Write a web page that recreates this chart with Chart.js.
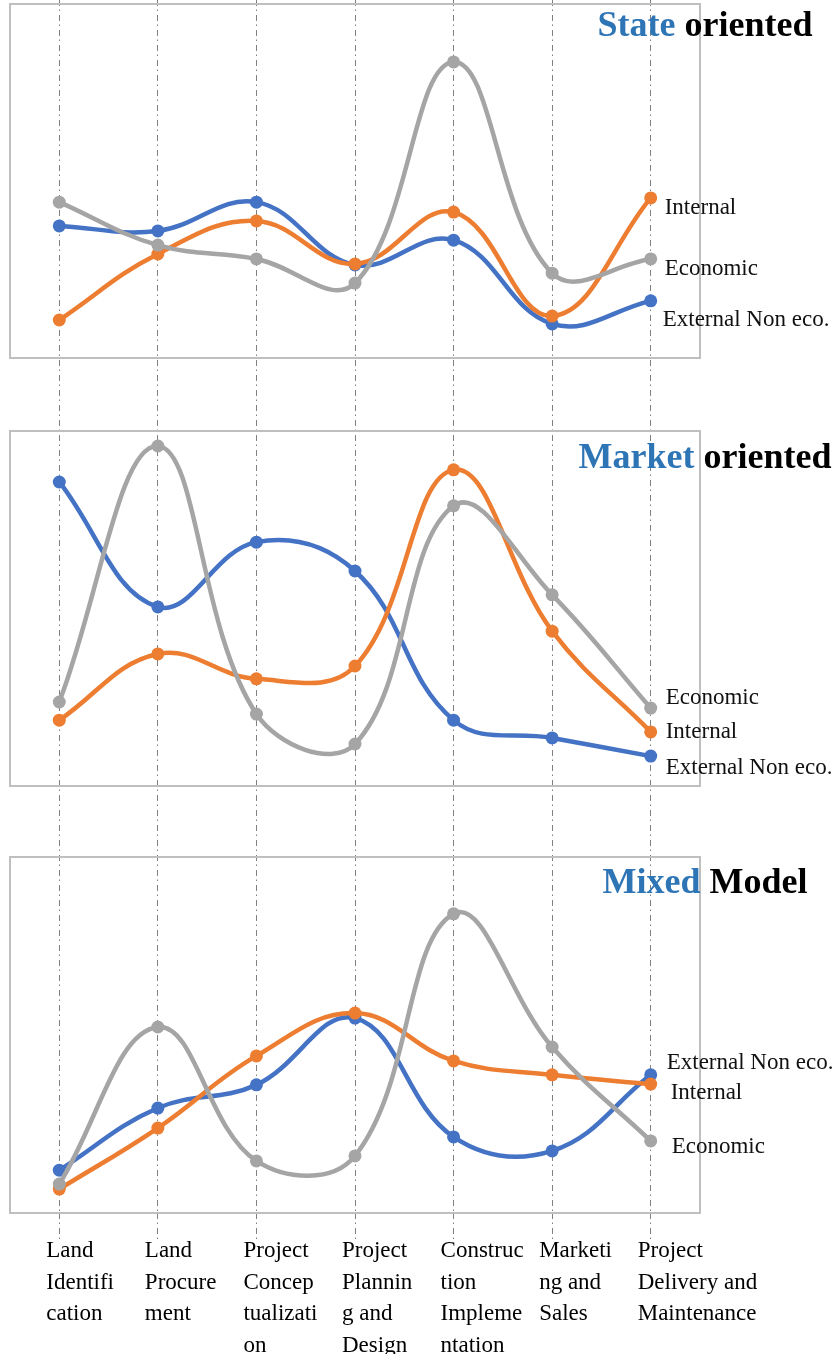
<!DOCTYPE html>
<html>
<head>
<meta charset="utf-8">
<script src="https://cdn.jsdelivr.net/npm/chart.js@4/dist/chart.umd.min.js"></script>
<style>
  html, body { margin: 0; padding: 0; background: #ffffff; }
  #wrap { width: 837px; height: 1354px; position: relative; overflow: hidden; }
  canvas { display: block; }
</style>
</head>
<body>
<div id="wrap"><canvas id="chart" width="837" height="1354"></canvas></div>
<script>
// Development stages along the shared x axis (line breaks as printed)
const stageLabels = [
  ['Land', 'Identifi', 'cation'],
  ['Land', 'Procure', 'ment'],
  ['Project', 'Concep', 'tualizati', 'on'],
  ['Project', 'Plannin', 'g and', 'Design'],
  ['Construc', 'tion', 'Impleme', 'ntation'],
  ['Marketi', 'ng and', 'Sales'],
  ['Project', 'Delivery and', 'Maintenance']
];

const seriesNames = ['External Non eco.', 'Internal', 'Economic'];

// State oriented
const stateExternal = [37.2, 35.8, 43.9, 26.2, 33.2, 9.6, 16.1];
const stateInternal = [10.7, 29.3, 38.6, 26.5, 41.1, 11.8, 45.1];
const stateEconomic = [43.9, 31.8, 27.9, 21.1, 83.4, 23.9, 27.9];

// Market oriented
const marketExternal = [85.4, 50.3, 68.5, 60.4, 18.5, 13.5, 8.4];
const marketInternal = [18.5, 37.1, 30.1, 33.7, 88.8, 43.5, 15.2];
const marketEconomic = [23.6, 95.5, 20.2, 11.8, 78.7, 53.7, 21.9];

// Mixed model
const mixedExternal = [12.0, 29.4, 35.9, 54.6, 21.3, 17.4, 38.7];
const mixedInternal = [6.7, 23.8, 44.0, 56.0, 42.6, 38.7, 36.1];
const mixedEconomic = [8.1, 52.1, 14.6, 16.0, 83.8, 46.5, 20.2];

const panelTitles = [['State', 'oriented'], ['Market', 'oriented'], ['Mixed', 'Model']];

// ---- styling ----
const seriesColors = ['#4472C4', '#ED7D31', '#A5A5A5'];
const seriesOrder = [3, 2, 1];              // economic on top, then internal
const panelAxes = ['yState', 'yMarket', 'yMixed'];
const titleBlue = '#2E75B6';
const serif = "'Liberation Serif', 'Times New Roman', serif";
const gridDash = [6, 3.5, 1.5, 4];
const gridColor = '#808080';
// per panel, per series: [dx, dy] of the end label relative to the last point
const endLabelNudge = [
  [[12, 19], [14, 10], [14, 10]],
  [[15, 12], [15, 0], [15, -10]],
  [[16, -12], [20, 9], [21, 6]]
];
const titleBaseline = [33, 38, 37];
const titleCenterX = 705;

const panelData = [
  [stateExternal, stateInternal, stateEconomic],
  [marketExternal, marketInternal, marketEconomic],
  [mixedExternal, mixedInternal, mixedEconomic]
];

const datasets = [];
panelData.forEach((series, p) => {
  series.forEach((values, s) => {
    datasets.push({
      label: seriesNames[s],
      data: values,
      yAxisID: panelAxes[p],
      borderColor: seriesColors[s],
      backgroundColor: seriesColors[s],
      pointBackgroundColor: seriesColors[s],
      pointBorderWidth: 0,
      pointRadius: 6.5,
      borderWidth: 4.5,
      tension: 0.4,
      fill: false,
      order: seriesOrder[s],
      panel: p,
      series: s
    });
  });
});

function hiddenAxis(weight, stackWeight, extra) {
  return Object.assign({
    type: 'linear',
    position: 'right',
    display: false,
    stack: 'panels',
    weight: weight,
    stackWeight: stackWeight
  }, extra || {});
}

const panelDecor = {
  id: 'panelDecor',
  beforeDatasetsDraw(chart) {
    const { ctx, chartArea } = chart;
    ctx.save();
    ctx.strokeStyle = '#bfbfbf';
    ctx.lineWidth = 2;
    panelAxes.forEach(id => {
      const sc = chart.scales[id];
      ctx.strokeRect(chartArea.left, sc.top + 1, chartArea.right - chartArea.left, sc.bottom - sc.top - 1);
    });
    ctx.restore();
  },
  afterDatasetsDraw(chart) {
    const { ctx } = chart;
    ctx.save();
    // end-of-line series labels
    ctx.font = '23px ' + serif;
    ctx.fillStyle = '#111111';
    ctx.textAlign = 'left';
    ctx.textBaseline = 'middle';
    chart.data.datasets.forEach((ds, i) => {
      const meta = chart.getDatasetMeta(i);
      const pt = meta.data[meta.data.length - 1];
      const [dx, dy] = endLabelNudge[ds.panel][ds.series];
      ctx.fillText(ds.label, pt.x + dx, pt.y + dy);
    });
    // panel titles
    ctx.font = 'bold 36px ' + serif;
    ctx.textBaseline = 'alphabetic';
    panelAxes.forEach((id, p) => {
      const sc = chart.scales[id];
      const [first, second] = panelTitles[p];
      const w1 = ctx.measureText(first + ' ').width;
      const w2 = ctx.measureText(second).width;
      const x0 = titleCenterX - (w1 + w2) / 2;
      const y = sc.top + titleBaseline[p];
      ctx.fillStyle = titleBlue;
      ctx.fillText(first + ' ', x0, y);
      ctx.fillStyle = '#000000';
      ctx.fillText(second, x0 + w1, y);
    });
    ctx.restore();
  }
};

new Chart(document.getElementById('chart'), {
  type: 'line',
  data: { labels: stageLabels, datasets: datasets },
  options: {
    responsive: false,
    animation: false,
    devicePixelRatio: 1,
    layout: { autoPadding: false, padding: { left: 10, right: 137, top: 0, bottom: 0 } },
    plugins: { legend: { display: false }, tooltip: { enabled: false } },
    scales: {
      x: {
        type: 'category',
        offset: true,
        afterFit(scale) { scale.height = 141; },
        grid: {
          color: gridColor,
          lineWidth: 1,
          drawTicks: true,
          tickLength: 27,
          tickColor: gridColor,
          tickBorderDash: gridDash
        },
        border: { display: false, dash: gridDash },
        ticks: {
          autoSkip: false,
          maxRotation: 0,
          minRotation: 0,
          align: 'start',
          labelOffset: -13,
          padding: -5,
          color: '#000000',
          font: { family: serif, size: 23, lineHeight: 1.38 }
        }
      },
      yTopGap: hiddenAxis(0, 3),
      yState: hiddenAxis(1, 355, { min: 0, max: 100 }),
      yGapA: hiddenAxis(2, 72),
      yMarket: hiddenAxis(3, 356, { min: 0, max: 100 }),
      yGapB: hiddenAxis(4, 70),
      yMixed: hiddenAxis(5, 357, { min: 0, max: 100 })
    }
  },
  plugins: [panelDecor]
});
</script>
</body>
</html>
